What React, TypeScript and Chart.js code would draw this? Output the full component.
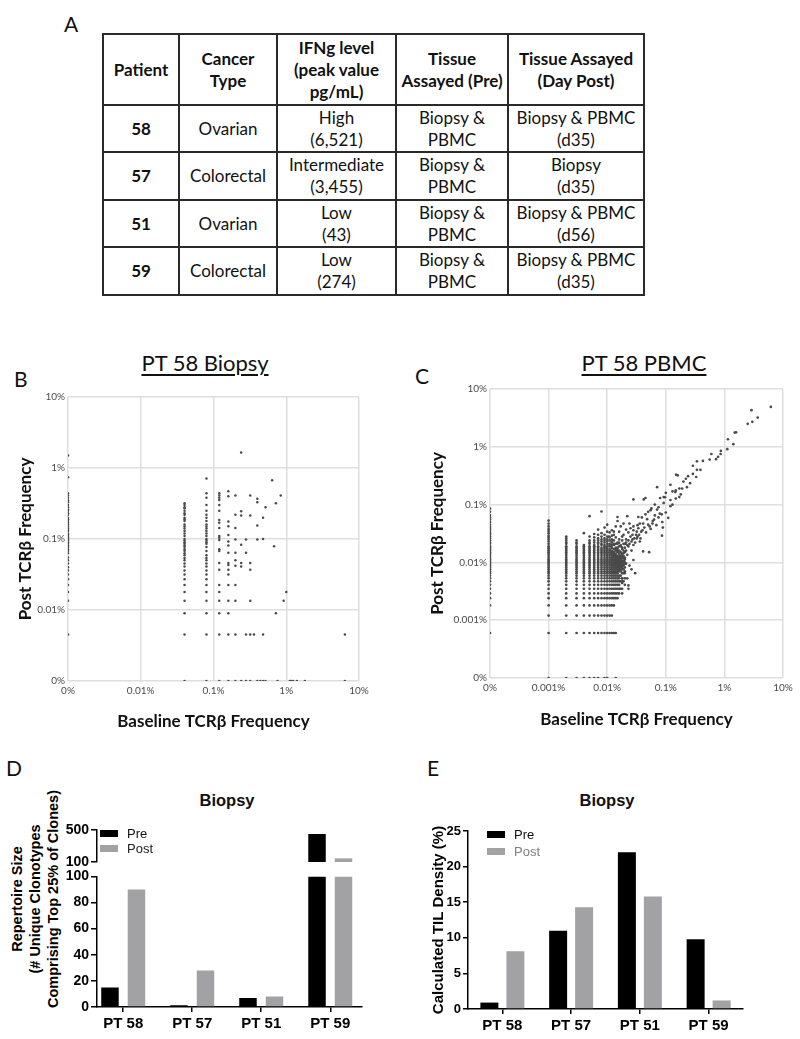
import React, { useEffect, useRef } from "react";
import { Chart, registerables } from "chart.js";

Chart.register(...registerables);

const LATO = "Lato, 'Open Sans', sans-serif";
const ARIAL = "'Liberation Sans', Arial, Helvetica, sans-serif";
const POST_GRAY = "#a2a2a5";

// ---------------- Panel A: table ----------------
const tableHeaders = [
  ["Patient"],
  ["Cancer", "Type"],
  ["IFNg level", "(peak value", "pg/mL)"],
  ["Tissue", "Assayed (Pre)"],
  ["Tissue Assayed", "(Day Post)"],
];
const tablePatients = ["58", "57", "51", "59"];
const tableCancerTypes = ["Ovarian", "Colorectal", "Ovarian", "Colorectal"];
const tableIfngLevels = ["High", "Intermediate", "Low", "Low"];
const tableIfngPeaks = ["(6,521)", "(3,455)", "(43)", "(274)"];
const tableTissuePre = [
  ["Biopsy &", "PBMC"],
  ["Biopsy &", "PBMC"],
  ["Biopsy &", "PBMC"],
  ["Biopsy &", "PBMC"],
];
const tableTissuePost = ["Biopsy & PBMC", "Biopsy", "Biopsy & PBMC", "Biopsy & PBMC"];
const tablePostDays = ["(d35)", "(d35)", "(d56)", "(d35)"];

// ---------------- Panel B: PT 58 Biopsy (frequencies in %) ----------------
const biopsyTickLabels = ["0%", "0.01%", "0.1%", "1%", "10%"];
const biopsyBaselinePct = [
  0, 0.04, 0.08, 0.12, 0.16, 0.2, 0.24, 0.28, 0.32, 0.36, 0.4, 0.44, 0.48, 0.52, 0.64, 0.68, 0.72,
  0.76, 0.84, 0.92, 1.0, 1.12, 1.16, 1.24, 1.4, 1.8, 6.4,
];
const biopsyPostPct = [
  [1.5, 0.74, 0.44, 0.41, 0.38, 0.35, 0.33, 0.3, 0.28, 0.26, 0.25, 0.23, 0.22, 0.2, 0.19, 0.18, 0.17, 0.16, 0.15, 0.14, 0.135, 0.13, 0.12, 0.115, 0.11, 0.105, 0.1, 0.095, 0.09, 0.086, 0.081, 0.077, 0.072, 0.068, 0.063, 0.055, 0.05, 0.045, 0.04, 0.036, 0.0315, 0.027, 0.0225, 0.018, 0.0135, 0.0045],
  [0.32, 0.3, 0.28, 0.27, 0.25, 0.23, 0.22, 0.2, 0.19, 0.18, 0.16, 0.15, 0.14, 0.13, 0.12, 0.11, 0.1, 0.095, 0.09, 0.086, 0.081, 0.077, 0.072, 0.068, 0.063, 0.059, 0.054, 0.05, 0.045, 0.041, 0.036, 0.0315, 0.027, 0.0225, 0.018, 0.0135, 0.009, 0.0045, 0],
  [0.71, 0.44, 0.38, 0.3, 0.25, 0.22, 0.2, 0.18, 0.16, 0.15, 0.14, 0.13, 0.12, 0.11, 0.1, 0.095, 0.09, 0.086, 0.077, 0.068, 0.059, 0.054, 0.05, 0.045, 0.041, 0.036, 0.0315, 0.027, 0.0225, 0.018, 0.0135, 0.009, 0.0045, 0],
  [0.44, 0.41, 0.38, 0.355, 0.3, 0.25, 0.185, 0.17, 0.143, 0.11, 0.104, 0.097, 0.072, 0.068, 0.046, 0.037, 0.0225, 0.018, 0.0135, 0.009, 0.0045, 0],
  [0.47, 0.4, 0.177, 0.151, 0.114, 0.092, 0.081, 0.064, 0.046, 0.043, 0.037, 0.0315, 0.0225, 0.0135, 0.009, 0.0045, 0],
  [0.41, 0.22, 0.143, 0.098, 0.064, 0.05, 0.042, 0.0225, 0.0135, 0.0045, 0],
  [1.65, 0.245, 0.215, 0.083, 0.046, 0.041, 0],
  [0.098, 0.064, 0.0045, 0],
  [0.41, 0.215, 0.046, 0.037, 0.0135, 0.0045, 0],
  [0.0045],
  [0.37, 0.33, 0.155, 0.098, 0],
  [0],
  [0.2, 0.1, 0.0045, 0],
  [0.28, 0],
  [0.67],
  [0.079],
  [0.32, 0.009],
  [0],
  [0.41],
  [0.0135],
  [0.018],
  [0],
  [0],
  [0],
  [0],
  [0],
  [0.0045, 0],
];

// ---------------- Panel C: PT 58 PBMC (frequencies in %) ----------------
const pbmcTickLabels = ["0%", "0.001%", "0.01%", "0.1%", "1%", "10%"];
const pbmcGridBaselinePct = [
  0, 0.001, 0.002, 0.003, 0.004, 0.005, 0.006, 0.007, 0.008, 0.009, 0.01, 0.011, 0.012, 0.013, 0.014,
  0.015, 0.016, 0.017, 0.018, 0.019, 0.02,
];
const pbmcGridPostPct = [
  [0.085, 0.075, 0.066, 0.06, 0.055, 0.05, 0.045, 0.041, 0.038, 0.035, 0.032, 0.03, 0.028, 0.026, 0.024, 0.022, 0.021, 0.019, 0.018, 0.017, 0.016, 0.015, 0.014, 0.013, 0.012, 0.0112, 0.0106, 0.01, 0.0094, 0.0088, 0.0082, 0.0076, 0.007, 0.0065, 0.0059, 0.0053, 0.0047, 0.0041, 0.0035, 0.0029, 0.0024, 0.0018, 0.0006],
  [0.053, 0.047, 0.042, 0.038, 0.035, 0.032, 0.029, 0.027, 0.025, 0.023, 0.021, 0.019, 0.018, 0.017, 0.016, 0.015, 0.014, 0.013, 0.012, 0.0112, 0.0106, 0.01, 0.0094, 0.0088, 0.0082, 0.0076, 0.007, 0.0065, 0.0059, 0.0053, 0.0047, 0.0041, 0.0035, 0.0029, 0.0024, 0.0018, 0.0012, 0.0006, 0],
  [0.028, 0.026, 0.024, 0.022, 0.021, 0.019, 0.018, 0.017, 0.016, 0.015, 0.014, 0.013, 0.012, 0.0112, 0.0106, 0.01, 0.0094, 0.0088, 0.0082, 0.0076, 0.007, 0.0065, 0.0059, 0.0053, 0.0047, 0.0041, 0.0035, 0.0029, 0.0024, 0.0018, 0.0012, 0.0006, 0],
  [0.024, 0.022, 0.021, 0.019, 0.018, 0.017, 0.016, 0.015, 0.014, 0.013, 0.012, 0.0112, 0.0106, 0.01, 0.0094, 0.0088, 0.0082, 0.0076, 0.007, 0.0065, 0.0059, 0.0053, 0.0047, 0.0041, 0.0035, 0.0029, 0.0024, 0.0018, 0.0012, 0.0006, 0],
  [0.032, 0.02, 0.019, 0.018, 0.017, 0.016, 0.015, 0.014, 0.013, 0.012, 0.0112, 0.0106, 0.01, 0.0094, 0.0088, 0.0082, 0.0076, 0.007, 0.0065, 0.0059, 0.0053, 0.0047, 0.0041, 0.0035, 0.0029, 0.0024, 0.0018, 0.0012, 0.0006, 0],
  [0.063, 0.028, 0.024, 0.022, 0.021, 0.019, 0.018, 0.017, 0.016, 0.015, 0.014, 0.013, 0.012, 0.0112, 0.0106, 0.01, 0.0094, 0.0088, 0.0082, 0.0076, 0.007, 0.0065, 0.0059, 0.0053, 0.0047, 0.0041, 0.0035, 0.0029, 0.0024, 0.0018, 0.0012, 0.0006, 0],
  [0.031, 0.027, 0.024, 0.022, 0.02, 0.019, 0.018, 0.017, 0.016, 0.015, 0.014, 0.013, 0.012, 0.0112, 0.0106, 0.01, 0.0094, 0.0088, 0.0082, 0.0076, 0.007, 0.0065, 0.0059, 0.0053, 0.0047, 0.0041, 0.0035, 0.0029, 0.0024, 0.0018, 0.0012, 0.0006, 0],
  [0.037, 0.03, 0.026, 0.024, 0.022, 0.021, 0.019, 0.018, 0.017, 0.016, 0.015, 0.014, 0.013, 0.012, 0.0112, 0.0106, 0.01, 0.0094, 0.0088, 0.0082, 0.0076, 0.007, 0.0065, 0.0059, 0.0053, 0.0047, 0.0041, 0.0035, 0.0029, 0.0024, 0.0018, 0.0012, 0.0006, 0],
  [0.076, 0.032, 0.028, 0.025, 0.023, 0.021, 0.02, 0.018, 0.017, 0.016, 0.015, 0.014, 0.013, 0.012, 0.0112, 0.0106, 0.01, 0.0094, 0.0088, 0.0082, 0.0076, 0.007, 0.0065, 0.0059, 0.0053, 0.0047, 0.0041, 0.0035, 0.0029, 0.0024, 0.0018, 0.0012, 0.0006],
  [0.04, 0.03, 0.026, 0.024, 0.022, 0.02, 0.019, 0.018, 0.017, 0.016, 0.015, 0.014, 0.013, 0.012, 0.0112, 0.0106, 0.01, 0.0094, 0.0088, 0.0082, 0.0076, 0.007, 0.0065, 0.0059, 0.0053, 0.0047, 0.0041, 0.0035, 0.0029, 0.0024, 0.0018, 0.0012, 0.0006, 0],
  [0.045, 0.034, 0.028, 0.025, 0.023, 0.021, 0.019, 0.018, 0.017, 0.016, 0.015, 0.014, 0.013, 0.012, 0.0112, 0.0106, 0.01, 0.0094, 0.0088, 0.0082, 0.0076, 0.007, 0.0065, 0.0059, 0.0053, 0.0047, 0.0041, 0.0035, 0.0029, 0.0024, 0.0018, 0.0012, 0.0006, 0],
  [0.033, 0.027, 0.024, 0.021, 0.019, 0.017, 0.016, 0.015, 0.014, 0.013, 0.012, 0.0112, 0.0106, 0.01, 0.0094, 0.0088, 0.0082, 0.0076, 0.007, 0.0065, 0.0059, 0.0053, 0.0047, 0.0041, 0.0035, 0.0029, 0.0024, 0.0018, 0.0012, 0.0006],
  [0.036, 0.029, 0.025, 0.022, 0.02, 0.018, 0.016, 0.015, 0.014, 0.013, 0.012, 0.0112, 0.0106, 0.01, 0.0094, 0.0088, 0.0082, 0.0076, 0.007, 0.0065, 0.0059, 0.0053, 0.0047, 0.0041, 0.0035, 0.0029, 0.0024, 0.0018, 0.0012, 0.0006],
  [0.03, 0.024, 0.02, 0.017, 0.015, 0.014, 0.013, 0.012, 0.0112, 0.0106, 0.01, 0.0094, 0.0088, 0.0082, 0.0076, 0.007, 0.0065, 0.0059, 0.0053, 0.0047, 0.0041, 0.0035, 0.0029, 0.0024, 0.0018, 0.0006],
  [0.027, 0.021, 0.018, 0.016, 0.014, 0.013, 0.012, 0.0112, 0.0106, 0.01, 0.0094, 0.0088, 0.0082, 0.0076, 0.007, 0.0065, 0.0059, 0.0053, 0.0047, 0.0041, 0.0035, 0.0029, 0.0024, 0.0006, 0],
  [0.022, 0.017, 0.015, 0.013, 0.012, 0.0112, 0.0106, 0.01, 0.0094, 0.0088, 0.0082, 0.0076, 0.007, 0.0065, 0.0059, 0.0053, 0.0047, 0.0041, 0.0035, 0.0029, 0.0024],
  [0.025, 0.019, 0.016, 0.014, 0.0125, 0.0118, 0.0112, 0.0106, 0.01, 0.0094, 0.0088, 0.0082, 0.0076, 0.007, 0.0059, 0.0053, 0.0047, 0.0041, 0.0035, 0.0029],
  [0.02, 0.015, 0.013, 0.012, 0.0112, 0.0106, 0.01, 0.0094, 0.0088, 0.0082, 0.0076, 0.007, 0.0059, 0.0047, 0.0035],
  [0.028, 0.018, 0.014, 0.0125, 0.0118, 0.0106, 0.01, 0.0094, 0.0088, 0.0082, 0.0076, 0.0065, 0.0053, 0.0047, 0.0035, 0.0029],
  [0.016, 0.013, 0.0118, 0.0106, 0.01, 0.0094, 0.0088, 0.0076, 0.0065, 0.0047],
  [0.021, 0.015, 0.012, 0.0112, 0.01, 0.0094, 0.0082, 0.007, 0.0053, 0.0041],
];
const pbmcCloudPct: [number, number][] = [
  [6.2, 4.9], [2.9, 4.3], [3.7, 3.2], [3.0, 2.7], [2.5, 2.5], [1.58, 1.78], [1.5, 1.76], [1.15, 1.35],
  [1.42, 1.11], [1.12, 0.91], [0.87, 0.85], [0.86, 0.75], [0.78, 0.67], [0.72, 0.61], [0.6, 0.75],
  [0.56, 0.6], [0.43, 0.57], [0.34, 0.56], [0.29, 0.47], [0.39, 0.4], [0.34, 0.4], [0.33, 0.3],
  [0.24, 0.31], [0.16, 0.32], [0.15, 0.33], [0.26, 0.235], [0.23, 0.2], [0.19, 0.19], [0.17, 0.19],
  [0.13, 0.17], [0.12, 0.22], [0.148, 0.176], [0.145, 0.165], [0.17, 0.135], [0.148, 0.127],
  [0.1, 0.16], [0.097, 0.134], [0.08, 0.13], [0.092, 0.135], [0.071, 0.2], [0.045, 0.13],
  [0.042, 0.123], [0.028, 0.123], [0.12, 0.094], [0.092, 0.107], [0.1, 0.073], [0.11, 0.059],
  [0.085, 0.068], [0.079, 0.07], [0.071, 0.082], [0.057, 0.086], [0.055, 0.08], [0.045, 0.068],
  [0.039, 0.06], [0.034, 0.061], [0.048, 0.056], [0.06, 0.052], [0.059, 0.047], [0.069, 0.044],
  [0.053, 0.042], [0.087, 0.05], [0.089, 0.04], [0.086, 0.029], [0.041, 0.047], [0.036, 0.047],
  [0.033, 0.044], [0.028, 0.042], [0.022, 0.063], [0.015, 0.061], [0.015, 0.052], [0.019, 0.047],
  [0.024, 0.047], [0.025, 0.039], [0.021, 0.037], [0.017, 0.042], [0.014, 0.042], [0.013, 0.034],
  [0.016, 0.034], [0.019, 0.03], [0.023, 0.033], [0.028, 0.036], [0.032, 0.034], [0.035, 0.03],
  [0.037, 0.026], [0.032, 0.026], [0.027, 0.025], [0.021, 0.025], [0.018, 0.024], [0.015, 0.021],
  [0.012, 0.023], [0.0107, 0.028], [0.041, 0.0155], [0.052, 0.015], [0.036, 0.023], [0.028, 0.02],
  [0.023, 0.019], [0.026, 0.016], [0.021, 0.016], [0.019, 0.0145], [0.015, 0.0155], [0.016, 0.0126],
  [0.028, 0.011], [0.023, 0.004], [0.018, 0.0044], [0.011, 0.02], [0.012, 0.018], [0.013, 0.021],
  [0.014, 0.017], [0.013, 0.015], [0.015, 0.018], [0.016, 0.022], [0.017, 0.019], [0.018, 0.017],
  [0.019, 0.021], [0.02, 0.018], [0.021, 0.022], [0.022, 0.02], [0.023, 0.024], [0.024, 0.021],
  [0.025, 0.028], [0.026, 0.023], [0.027, 0.03], [0.029, 0.026], [0.03, 0.022], [0.031, 0.03],
  [0.033, 0.028], [0.034, 0.039], [0.038, 0.034], [0.04, 0.036], [0.043, 0.04], [0.046, 0.033],
  [0.05, 0.045], [0.055, 0.038], [0.063, 0.055], [0.065, 0.065], [0.075, 0.06], [0.075, 0.09],
  [0.065, 0.1], [0.05, 0.075], [0.12, 0.12], [0.2, 0.25], [0.18, 0.15], [0.22, 0.28], [0.29, 0.34],
  [0.13, 0.1], [0.016, 0.014], [0.018, 0.013], [0.02, 0.012], [0.022, 0.0135], [0.017, 0.011],
  [0.014, 0.0125], [0.019, 0.0105], [0.021, 0.0095], [0.024, 0.0088], [0.016, 0.0082],
  [0.026, 0.0076], [0.02, 0.0065], [0.018, 0.0053], [0.022, 0.0053], [0.03, 0.0065], [0.023, 0.0035],
];

// ---------------- Panels D & E: bars ----------------
const patientLabels = ["PT 58", "PT 57", "PT 51", "PT 59"];
const seriesNames = ["Pre", "Post"];
const repertoirePre = [15, 1.3, 6.8, 450];
const repertoirePost = [90, 28, 8, 145];
const tilDensityPre = [0.9, 11.0, 22.0, 9.8];
const tilDensityPost = [8.1, 14.3, 15.8, 1.2];

// ---------------- helpers ----------------
const toLog = (v: number, zero: number) => (v > 0 ? Math.log10(v) : zero);

const insetLegend = {
  id: "insetLegend",
  afterDatasetsDraw(chart: any, _args: any, opts: any) {
    if (!opts || !opts.show) return;
    const { ctx, chartArea } = chart;
    ctx.save();
    chart.data.datasets.forEach((ds: any, i: number) => {
      const x = chartArea.left + opts.dx;
      const y = chartArea.top + opts.dy + i * opts.step;
      ctx.fillStyle = ds.backgroundColor;
      ctx.fillRect(x, y, 18, 7);
      ctx.fillStyle = opts.textColors[i];
      ctx.font = `13px ${ARIAL}`;
      ctx.textBaseline = "middle";
      ctx.textAlign = "left";
      ctx.fillText(ds.label, x + 27, y + 4);
    });
    ctx.restore();
  },
};

function ChartCanvas({ left, top, width, height, build }: any) {
  const ref = useRef<HTMLCanvasElement | null>(null);
  useEffect(() => {
    if (!ref.current) return;
    const chart = new Chart(ref.current, build());
    return () => chart.destroy();
  }, []);
  return (
    <canvas
      ref={ref}
      width={width}
      height={height}
      style={{ position: "absolute", left, top, width, height }}
    />
  );
}

function scatterConfig(o: any) {
  const tickCb = (v: any) => o.labels[Math.round(Number(v) - o.zero)] ?? "";
  const buildTicks = (s: any) => {
    s.ticks = o.labels.map((_: string, i: number) => ({ value: o.zero + i }));
  };
  const tickFont = { family: LATO, size: 10 };
  const titleFont = { family: LATO, size: 17, weight: "bold" };
  return {
    type: "scatter",
    data: {
      datasets: [
        {
          data: o.points,
          pointRadius: o.radius,
          backgroundColor: "#4a4a4a",
          borderWidth: 0,
        },
      ],
    },
    options: {
      responsive: false,
      animation: false,
      events: [],
      layout: { padding: { left: 0, top: o.padTop, right: o.padRight, bottom: 0 } },
      plugins: { legend: { display: false }, tooltip: { enabled: false } },
      scales: {
        x: {
          type: "linear",
          min: o.zero,
          max: o.zero + o.labels.length - 1,
          afterBuildTicks: buildTicks,
          ticks: { callback: tickCb, autoSkip: false, maxRotation: 0, font: tickFont, color: "#4a4a4a", padding: 4 },
          grid: { color: "#dedede", lineWidth: 1.5, drawTicks: false },
          border: { display: false },
          title: {
            display: true,
            text: "Baseline TCRβ Frequency",
            font: titleFont,
            color: "#111",
            padding: { top: 0, bottom: o.xTitlePad },
          },
          afterFit: (s: any) => {
            s.height = o.xHeight;
          },
        },
        y: {
          type: "linear",
          min: o.zero,
          max: o.zero + o.labels.length - 1,
          afterBuildTicks: buildTicks,
          ticks: { callback: tickCb, autoSkip: false, font: tickFont, color: "#4a4a4a", padding: 3 },
          grid: { color: "#dedede", lineWidth: 1.5, drawTicks: false },
          border: { display: false },
          title: {
            display: true,
            text: "Post TCRβ Frequency",
            font: titleFont,
            color: "#111",
            padding: { top: o.yTitlePad, bottom: 0 },
          },
          afterFit: (s: any) => {
            s.width = o.yWidth;
          },
        },
      },
    },
  };
}

const biopsyPoints = biopsyBaselinePct.flatMap((b, i) =>
  biopsyPostPct[i].map((p) => ({ x: toLog(b, -3), y: toLog(p, -3) }))
);
const pbmcPoints = [
  ...pbmcGridBaselinePct.flatMap((b, i) =>
    pbmcGridPostPct[i].map((p) => ({ x: toLog(b, -4), y: toLog(p, -4) }))
  ),
  ...pbmcCloudPct.map(([b, p]) => ({ x: toLog(b, -4), y: toLog(p, -4) })),
];

const axisBlack = { color: "#000", width: 1.5 };
const barTickFont = (size: number) => ({ family: ARIAL, size, weight: "bold" });

function repertoireUpperConfig() {
  return {
    type: "bar",
    data: {
      datasets: [
        {
          label: seriesNames[0],
          data: repertoirePre.map((v, i) => ({ x: i, y: v > 100 ? v : null })),
          backgroundColor: "#000",
          categoryPercentage: 0.768,
          barPercentage: 0.66,
        },
        {
          label: seriesNames[1],
          data: repertoirePost.map((v, i) => ({ x: i, y: v > 100 ? v : null })),
          backgroundColor: POST_GRAY,
          categoryPercentage: 0.768,
          barPercentage: 0.66,
        },
      ],
    },
    plugins: [insetLegend],
    options: {
      responsive: false,
      animation: false,
      events: [],
      layout: { padding: { left: 0, top: 15, right: 38, bottom: 13 } },
      plugins: {
        legend: { display: false },
        tooltip: { enabled: false },
        insetLegend: { show: true, dx: 3, dy: 0, step: 15, textColors: ["#111", "#222"] },
      },
      scales: {
        x: { type: "linear", display: false, min: -0.38, max: 3.46, offset: false },
        y: {
          type: "linear",
          min: 100,
          max: 500,
          afterBuildTicks: (s: any) => {
            s.ticks = [{ value: 100 }, { value: 500 }];
          },
          ticks: { font: barTickFont(14), color: "#000", padding: 2 },
          grid: { drawOnChartArea: false, tickLength: 6, color: "#000", lineWidth: 1.5 },
          border: axisBlack,
          afterFit: (s: any) => {
            s.width = 97;
          },
        },
      },
    },
  };
}

function repertoireLowerConfig() {
  return {
    type: "bar",
    data: {
      datasets: [
        {
          label: seriesNames[0],
          data: repertoirePre.map((v, i) => ({ x: i, y: Math.min(v, 100) })),
          backgroundColor: "#000",
          categoryPercentage: 0.768,
          barPercentage: 0.66,
        },
        {
          label: seriesNames[1],
          data: repertoirePost.map((v, i) => ({ x: i, y: Math.min(v, 100) })),
          backgroundColor: POST_GRAY,
          categoryPercentage: 0.768,
          barPercentage: 0.66,
        },
      ],
    },
    options: {
      responsive: false,
      animation: false,
      events: [],
      layout: { padding: { left: 0, top: 10, right: 38, bottom: 0 } },
      plugins: { legend: { display: false }, tooltip: { enabled: false } },
      scales: {
        x: {
          type: "linear",
          min: -0.38,
          max: 3.46,
          offset: false,
          afterBuildTicks: (s: any) => {
            s.ticks = patientLabels.map((_, i) => ({ value: i }));
          },
          ticks: {
            callback: (v: any) => patientLabels[Math.round(Number(v))] ?? "",
            autoSkip: false,
            maxRotation: 0,
            font: barTickFont(15),
            color: "#000",
            padding: 3,
          },
          grid: { drawOnChartArea: false, tickLength: 5, color: "#000", lineWidth: 1.5, offset: false },
          border: axisBlack,
          afterFit: (s: any) => {
            s.height = 32;
          },
        },
        y: {
          type: "linear",
          min: 0,
          max: 100,
          ticks: { stepSize: 20, font: barTickFont(14), color: "#000", padding: 2 },
          grid: { drawOnChartArea: false, tickLength: 6, color: "#000", lineWidth: 1.5 },
          border: axisBlack,
          afterFit: (s: any) => {
            s.width = 97;
          },
        },
      },
    },
  };
}

function tilConfig() {
  return {
    type: "bar",
    data: {
      labels: patientLabels,
      datasets: [
        {
          label: seriesNames[0],
          data: tilDensityPre,
          backgroundColor: "#000",
          categoryPercentage: 0.756,
          barPercentage: 0.692,
        },
        {
          label: seriesNames[1],
          data: tilDensityPost,
          backgroundColor: POST_GRAY,
          categoryPercentage: 0.756,
          barPercentage: 0.692,
        },
      ],
    },
    plugins: [insetLegend],
    options: {
      responsive: false,
      animation: false,
      events: [],
      layout: { padding: { left: 0, top: 16, right: 57, bottom: 0 } },
      plugins: {
        legend: { display: false },
        tooltip: { enabled: false },
        insetLegend: { show: true, dx: 19, dy: 0, step: 17, textColors: ["#111", "#808080"] },
      },
      scales: {
        x: {
          ticks: { font: barTickFont(15), color: "#000", padding: 3, maxRotation: 0, autoSkip: false },
          grid: { drawOnChartArea: false, tickLength: 5, color: "#000", lineWidth: 1.5, offset: false },
          border: axisBlack,
          afterFit: (s: any) => {
            s.height = 30;
          },
        },
        y: {
          min: 0,
          max: 25,
          ticks: { stepSize: 5, font: barTickFont(13), color: "#000", padding: 2 },
          grid: { drawOnChartArea: false, tickLength: 5, color: "#000", lineWidth: 1.5 },
          border: axisBlack,
          title: {
            display: true,
            text: "Calculated TIL Density (%)",
            font: { family: ARIAL, size: 15, weight: "bold" },
            color: "#000",
            padding: { top: 30, bottom: 0 },
          },
          afterFit: (s: any) => {
            s.width = 68;
          },
        },
      },
    },
  };
}

// ---------------- page ----------------
function Letter({ ch, left, top }: { ch: string; left: number; top: number }) {
  return (
    <div style={{ position: "absolute", left, top, fontFamily: LATO, fontSize: 21, lineHeight: "21px", color: "#111" }}>
      {ch}
    </div>
  );
}

function Lines({ lines }: { lines: string[] }) {
  return (
    <>
      {lines.map((l, i) => (
        <div key={i}>{l}</div>
      ))}
    </>
  );
}

function Table() {
  const colWidths = [76, 98, 119, 112, 136];
  const rowHeights = [47, 48, 47, 48];
  const cell: React.CSSProperties = {
    border: "2px solid #2a2a2a",
    textAlign: "center",
    verticalAlign: "middle",
    padding: 0,
    lineHeight: "22px",
    whiteSpace: "nowrap",
  };
  return (
    <table
      style={{
        position: "absolute",
        left: 102,
        top: 33,
        width: 541,
        borderCollapse: "collapse",
        tableLayout: "fixed",
        fontFamily: LATO,
        fontSize: 17,
        color: "#111",
      }}
    >
      <colgroup>
        {colWidths.map((w, i) => (
          <col key={i} style={{ width: w }} />
        ))}
      </colgroup>
      <tbody>
        <tr style={{ height: 71 }}>
          {tableHeaders.map((h, i) => (
            <td key={i} style={{ ...cell, fontWeight: 700 }}>
              <Lines lines={h} />
            </td>
          ))}
        </tr>
        {tablePatients.map((p, r) => (
          <tr key={p} style={{ height: rowHeights[r] }}>
            <td style={{ ...cell, fontWeight: 700 }}>{p}</td>
            <td style={cell}>{tableCancerTypes[r]}</td>
            <td style={cell}>
              <Lines lines={[tableIfngLevels[r], tableIfngPeaks[r]]} />
            </td>
            <td style={cell}>
              <Lines lines={tableTissuePre[r]} />
            </td>
            <td style={cell}>
              <Lines lines={[tableTissuePost[r], tablePostDays[r]]} />
            </td>
          </tr>
        ))}
      </tbody>
    </table>
  );
}

export default function App() {
  const panelTitle: React.CSSProperties = {
    position: "absolute",
    width: 240,
    textAlign: "center",
    fontFamily: LATO,
    fontSize: 22,
    lineHeight: "22px",
    textDecoration: "underline",
    textDecorationThickness: "1.5px",
    textUnderlineOffset: "3px",
    color: "#111",
  };
  const barTitle: React.CSSProperties = {
    position: "absolute",
    width: 200,
    textAlign: "center",
    fontFamily: ARIAL,
    fontSize: 16.5,
    fontWeight: 700,
    lineHeight: "17px",
    color: "#111",
  };
  return (
    <div
      style={{
        position: "absolute",
        left: 0,
        top: 0,
        width: 800,
        height: 1039,
        background: "#fff",
        overflow: "hidden",
      }}
    >
      <Letter ch="A" left={64} top={13} />
      <Table />

      <Letter ch="B" left={14} top={368} />
      <div style={{ ...panelTitle, left: 85, top: 352 }}>PT 58 Biopsy</div>
      <ChartCanvas
        left={0}
        top={385}
        width={400}
        height={350}
        build={() =>
          scatterConfig({
            points: biopsyPoints,
            zero: -3,
            labels: biopsyTickLabels,
            radius: 1.25,
            padTop: 12,
            padRight: 41,
            yWidth: 68,
            xHeight: 54,
            yTitlePad: 15,
            xTitlePad: 3,
          })
        }
      />

      <Letter ch="C" left={415} top={365} />
      <div style={{ ...panelTitle, left: 524, top: 352 }}>PT 58 PBMC</div>
      <ChartCanvas
        left={400}
        top={380}
        width={400}
        height={355}
        build={() =>
          scatterConfig({
            points: pbmcPoints,
            zero: -4,
            labels: pbmcTickLabels,
            radius: 1.35,
            padTop: 9,
            padRight: 17,
            yWidth: 90,
            xHeight: 57,
            yTitlePad: 27,
            xTitlePad: 5,
          })
        }
      />

      <Letter ch="D" left={6} top={757} />
      <div style={{ ...barTitle, left: 127, top: 792 }}>Biopsy</div>
      <div
        style={{
          position: "absolute",
          left: 35 - 120,
          top: 899 - 27,
          width: 240,
          height: 54,
          textAlign: "center",
          fontFamily: ARIAL,
          fontSize: 14.5,
          fontWeight: 700,
          lineHeight: "18px",
          color: "#000",
          transform: "rotate(-90deg)",
          transformOrigin: "50% 50%",
          whiteSpace: "nowrap",
        }}
      >
        <div>Repertoire Size</div>
        <div>(# Unique Clonotypes</div>
        <div>Comprising Top 25% of Clones)</div>
      </div>
      <ChartCanvas left={0} top={815} width={400} height={60} build={repertoireUpperConfig} />
      <ChartCanvas left={0} top={866} width={400} height={173} build={repertoireLowerConfig} />

      <Letter ch="E" left={427} top={757} />
      <div style={{ ...barTitle, left: 507, top: 792 }}>Biopsy</div>
      <ChartCanvas left={400} top={815} width={400} height={224} build={tilConfig} />
    </div>
  );
}
